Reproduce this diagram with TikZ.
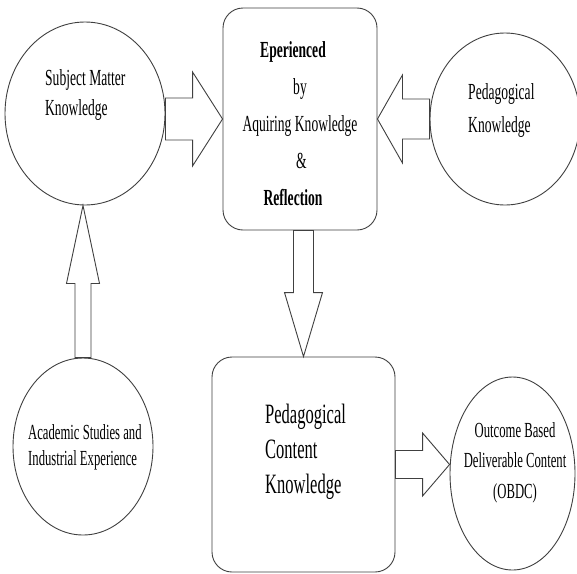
\documentclass[tikz,border=0pt]{standalone}
\usepackage{fontspec}
\setmainfont{Liberation Serif}[FakeStretch=0.59]
\usetikzlibrary{shapes.geometric,calc}

\tikzset{
  outline/.style={draw=black!75, line width=0.9pt},
  blob/.style={outline, ellipse, inner sep=0pt},
  panel/.style={outline, rectangle, rounded corners=20pt, inner sep=0pt},
  blockarr/.style={outline, fill=white, line join=miter},
  lbl/.style={inner sep=0pt, text=black},
}

% hollow block arrow: tail, tip, shaft half width, head half width, head length
\newcommand{\blockarrow}[5]{%
  \coordinate (headbase) at ($(#2)!#5!(#1)$);
  \draw[blockarr]
    ($(#1)!#3!90:(#2)$) -- ($(headbase)!#3!90:(#2)$) --
    ($(headbase)!#4!90:(#2)$) -- (#2) --
    ($(headbase)!#4!-90:(#2)$) -- ($(headbase)!#3!-90:(#2)$) --
    ($(#1)!#3!-90:(#2)$) -- cycle;
}

\begin{document}
\begin{tikzpicture}[x=1pt,y=-1pt]
  \fill[white] (0,0) rectangle (577,573);
  \useasboundingbox (0,0) rectangle (577,573);

  % shapes
  \node[blob, minimum width=160pt, minimum height=183pt] (smk) at (85,113.5) {};
  \node[panel, minimum width=154pt, minimum height=222pt] (top) at (300,119) {};
  \node[blob, minimum width=150pt, minimum height=172pt] (pk) at (505,119) {};
  \node[blob, minimum width=140pt, minimum height=177pt] (acad) at (83,446.5) {};
  \node[panel, minimum width=183pt, minimum height=215pt] (pck) at (303.5,464.5) {};
  \node[blob, minimum width=125pt, minimum height=193pt] (obdc) at (512.5,473.5) {};

  % labels
  \node[lbl, anchor=north west, align=left,
        font=\fontsize{23}{30}\selectfont] (smktext) at (45,69.3)
        {Subject Matter\\Knowledge};
  \node[lbl, anchor=north, align=center,
        font=\fontsize{23}{37}\selectfont] (toptext) at (300,41.3)
        {\textbf{Eperienced}\hspace*{14pt}\\by\hspace*{5pt}\\Aquiring Knowledge\\\hspace*{3pt}\&\\\textbf{Reflection}\hspace*{14pt}};
  \node[lbl, anchor=north west, align=left,
        font=\fontsize{23}{33}\selectfont] (pktext) at (468,83.3)
        {Pedagogical\\Knowledge};
  \node[lbl, anchor=north west, align=left,
        font=\fontsize{21.5}{26}\selectfont] (acadtext) at (28,424.3)
        {Academic Studies and\\Industrial Experience};
  \node[lbl, anchor=north west, align=left,
        font=\fontsize{28}{35}\selectfont] (pcktext) at (265,403.9)
        {Pedagogical\\Content\\Knowledge};
  \node[lbl, anchor=north, align=center,
        font=\fontsize{21.5}{30.5}\selectfont] (obdctext) at (515,422.3)
        {Outcome Based\\Deliverable Content\\(OBDC)};

  % connector end points
  \coordinate (a1tail) at (smk.east |- top.west);
  \coordinate (a3tail) at (top.south -| pck.north);
  \coordinate (a4tip) at (acad.north |- smk.south);
  \coordinate (a5tip) at (pck.east -| obdc.west);

  % block arrows
  \blockarrow{a1tail}{top.west}{21pt}{47pt}{30pt}
  \blockarrow{pk.west}{top.east}{20pt}{44pt}{25pt}
  \blockarrow{a3tail}{pck.north}{10pt}{19pt}{64pt}
  \blockarrow{acad.north}{a4tip}{8pt}{16.5pt}{78pt}
  \blockarrow{pck.east}{a5tip}{14pt}{31.5pt}{27pt}
\end{tikzpicture}
\end{document}
